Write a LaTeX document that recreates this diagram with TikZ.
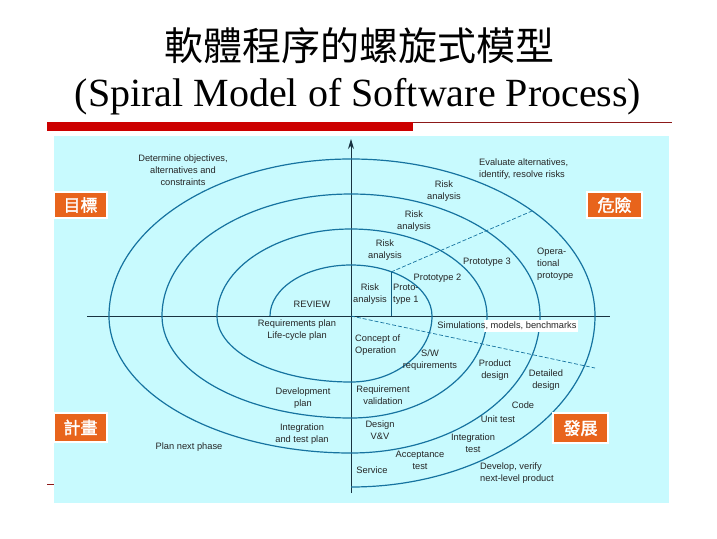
\documentclass[tikz,border=0pt]{standalone}
\usepackage{fontspec}
\setmainfont{Liberation Serif}
\newfontfamily\cjk{Noto Sans CJK TC}
\newfontfamily\cjkb[FakeBold=2]{Noto Sans CJK TC}
\newfontfamily\labfont{Liberation Sans}
\usetikzlibrary{arrows.meta}
\definecolor{panel}{RGB}{200,250,254}
\definecolor{spiralc}{RGB}{22,115,160}
\definecolor{axisc}{RGB}{25,50,65}
\definecolor{barred}{RGB}{204,0,0}
\definecolor{darkred}{RGB}{140,25,25}
\definecolor{tagorange}{RGB}{232,100,28}
\begin{document}
\begin{tikzpicture}[x=1pt,y=-1pt,
  lab/.style={font=\labfont\fontsize{9.3}{12}\selectfont, text=black!85, inner sep=0pt, align=center},
  labl/.style={lab, align=left, anchor=west},
  tagbox/.style={fill=tagorange, draw=white, line width=1.5pt, text=white, font=\cjkb\fontsize{17}{17}\selectfont, inner sep=0pt},
  spiral/.style={draw=spiralc, line width=1.2pt},
  axisline/.style={draw=axisc, line width=0.9pt},
  guide/.style={draw=spiralc, line width=0.7pt, dash pattern=on 4pt off 2pt}]
\useasboundingbox (0,0) rectangle (717,538);
\fill[white] (0,0) rectangle (717,538);
% title
\node[font=\cjk\fontsize{39}{39}\selectfont, inner sep=0pt] (t1) at (359,46) {軟體程序的螺旋式模型};
\node[font=\fontsize{40}{40}\selectfont, anchor=base, inner sep=0pt] (t2) at (358,106) {(Spiral Model of Software Process)};
% slide decoration
\fill[barred] (47,122) rectangle (413,131);
\draw[darkred, line width=0.8pt] (413,122.4) -- (672,122.4);
\draw[darkred, line width=0.8pt] (47,484) -- (54,484);
% panel
\fill[panel] (54,136) rectangle (669,503);
% axes
\coordinate (vtop) at (351,139);
\coordinate (vbot) at (351,493);
\coordinate (hl) at (87,316);
\coordinate (hr) at (610,316);
\draw[axisline] (hl) -- (hr);
\draw[axisline, -{Stealth[length=10pt,width=6pt]}] (vbot) -- (vtop);
% spiral
\coordinate (s0) at (270,316);
\draw[spiral] (s0)
  arc[start angle=180, end angle=270, x radius=81, y radius=51]
  arc[start angle=270, end angle=360, x radius=81, y radius=51]
  arc[start angle=0, end angle=90, x radius=81, y radius=66]
  arc[start angle=90, end angle=180, x radius=134, y radius=66]
  arc[start angle=180, end angle=270, x radius=134, y radius=87]
  arc[start angle=270, end angle=360, x radius=136, y radius=87]
  arc[start angle=0, end angle=90, x radius=136, y radius=102]
  arc[start angle=90, end angle=180, x radius=189, y radius=102]
  arc[start angle=180, end angle=270, x radius=189, y radius=122]
  arc[start angle=270, end angle=360, x radius=189, y radius=122]
  arc[start angle=0, end angle=90, x radius=189, y radius=137]
  arc[start angle=90, end angle=180, x radius=242, y radius=137]
  arc[start angle=180, end angle=270, x radius=242, y radius=157]
  arc[start angle=270, end angle=360, x radius=244, y radius=157]
  arc[start angle=0, end angle=90, x radius=244, y radius=171];
% guide lines
\coordinate (p1a) at (391,272);
\coordinate (p1b) at (391,316);
\coordinate (ga) at (532,211);
\coordinate (o) at (351,316);
\coordinate (gb) at (595,368);
\draw[spiralc!80!black, line width=0.8pt] (p1a) -- (p1b);
\draw[guide] (p1a) -- (ga);
\draw[guide] (o) -- (gb);
% white patch behind label
\fill[white] (484,319.5) rectangle (578,332);
% tags
\node[tagbox, minimum width=53pt, minimum height=26pt] (tagA) at (80.5,205) {目標};
\node[tagbox, minimum width=55pt, minimum height=26pt] (tagB) at (614.5,205) {危險};
\node[tagbox, minimum width=53pt, minimum height=29pt] (tagC) at (80.5,427.5) {計畫};
\node[tagbox, minimum width=55pt, minimum height=30pt] (tagD) at (580.5,428) {發展};
% labels
\node[lab] (l1) at (183,170) {Determine objectives,\\alternatives and\\constraints};
\node[labl] (l2) at (479,169) {Evaluate alternatives,\\identify, resolve risks};
\node[lab] (l3) at (444,191) {Risk\\analysis};
\node[lab] (l4) at (414,221) {Risk\\analysis};
\node[lab] (l5) at (385,250) {Risk\\analysis};
\node[lab] (l6) at (370,294) {Risk\\analysis};
\node[labl] (l7) at (393,294) {Proto-\\type 1};
\node[lab] (l8) at (437.5,278) {Prototype 2};
\node[lab] (l9) at (487,262) {Prototype 3};
\node[labl] (l10) at (537,264) {Opera-\\tional\\protoype};
\node[lab] (l11) at (312,304) {REVIEW};
\node[lab] (l12) at (297,330) {Requirements plan\\Life-cycle plan};
\node[labl] (l13) at (355,345) {Concept of\\Operation};
\node[lab] (l14) at (430,360) {S/W\\requirements};
\node[lab] (l15) at (507,326) {Simulations, models, benchmarks};
\node[lab] (l16) at (495,370.5) {Product\\design};
\node[lab] (l17) at (546,380) {Detailed\\design};
\node[lab] (l18) at (523,405) {Code};
\node[lab] (l19) at (498,419) {Unit test};
\node[lab] (l20) at (473,443) {Integration\\test};
\node[lab] (l21) at (383,395) {Requirement\\validation};
\node[lab] (l22) at (380,430.5) {Design\\V\&V};
\node[lab] (l23) at (420,460) {Acceptance\\test};
\node[lab] (l24) at (372,470) {Service};
\node[labl] (l25) at (480,473) {Develop, verify\\next-level product};
\node[lab] (l26) at (303,398) {Development\\plan};
\node[lab] (l27) at (302,434) {Integration\\and test plan};
\node[lab] (l28) at (189,447) {Plan next phase};
\end{tikzpicture}
\end{document}
